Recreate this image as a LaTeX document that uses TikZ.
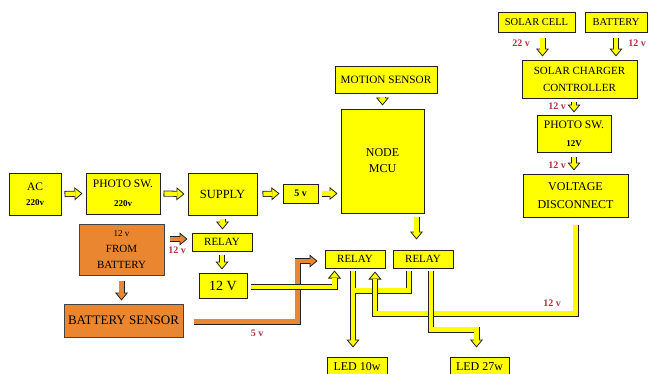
\documentclass[tikz,border=0pt]{standalone}
\usepackage{fontspec}
\setmainfont{Liberation Serif}
\usetikzlibrary{arrows.meta,positioning}
\definecolor{boxyellow}{HTML}{FFFF00}
\definecolor{batorange}{HTML}{E9862F}
\definecolor{voltred}{HTML}{B2323C}
\definecolor{rim}{HTML}{222222}
\newcommand{\fsz}[2]{\fontsize{#1}{#2}\selectfont}
\tikzset{
  box/.style={draw=rim, line width=1pt, fill=boxyellow, align=center, inner sep=0pt, font=\fsz{11}{16}},
  obox/.style={box, fill=batorange, draw=rim!85},
  volt/.style={text=voltred, font=\fsz{10}{12}\bfseries},
  bandrim/.style={draw=rim, line width=6pt, line join=miter},
  bandfill/.style={draw=#1, line width=4.4pt, line join=miter},
  bandfill/.default=boxyellow,
  bandtip/.style={-{Triangle[width=13pt,length=8pt,line width=0.8pt,fill=#1]}},
  bandtip/.default=boxyellow
}
% block arrow: outline with tip, then the inside
\newcommand{\hollowarrow}[2][boxyellow]{%
  \draw[bandrim,bandtip=#1] #2;
  \draw[bandfill=#1,shorten >=7pt,shorten <=0.8pt] #2;}

\begin{document}
\begin{tikzpicture}[x=1pt,y=-1pt]
\useasboundingbox (0,0) rectangle (650,373);

% mains side
\node[box,minimum width=52pt,minimum height=42pt,font=\fsz{11.5}{15}] (ac) at (35,194) {AC\\{\fsz{9}{11}\bfseries 220v}};
\node[box,minimum width=74pt,minimum height=41pt,font=\fsz{11.5}{19}] (photoac) at (123,193.5) {PHOTO SW.\\{\fsz{9}{11}\bfseries 220v}};
\node[box,minimum width=69pt,minimum height=42pt,font=\fsz{12.5}{15}] (supply) at (222.5,194) {SUPPLY};
\node[box,minimum width=35pt,minimum height=19pt,font=\fsz{10}{12}\bfseries] (five) at (300.5,193.5) {5 v};
\node[obox,minimum width=85pt,minimum height=51pt,font=\fsz{11}{16}] (frombat) at (121.5,249.5) {{\fsz{9}{11}12 v}\\FROM\\BATTERY};
\node[box,minimum width=60pt,minimum height=18pt] (relaymain) at (222,242) {RELAY};
\node[box,minimum width=48pt,minimum height=25pt,font=\fsz{14}{16}] (twelve) at (223,285.5) {12 V};
\node[obox,minimum width=119pt,minimum height=33pt,font=\fsz{13}{15}] (batsense) at (123.5,320.5) {BATTERY SENSOR};

% controller and relays
\node[box,minimum width=102pt,minimum height=27pt,font=\fsz{11.2}{13}] (motion) at (386,79.5) {MOTION SENSOR};
\node[box,minimum width=83pt,minimum height=104pt,font=\fsz{12}{16}] (mcu) at (382.5,161) {NODE\\MCU};
\node[box,minimum width=60pt,minimum height=18pt] (relayl) at (355,259) {RELAY};
\node[box,minimum width=60pt,minimum height=18pt] (relayr) at (423,259) {RELAY};
\node[box,minimum width=60pt,minimum height=20pt,font=\fsz{12}{14}] (ledten) at (357,367) {LED 10w};
\node[box,minimum width=59pt,minimum height=20pt,font=\fsz{12}{14}] (ledtwenty) at (479.5,367) {LED 27w};

% solar side
\node[box,minimum width=77pt,minimum height=20pt,font=\fsz{10.5}{12}] (solar) at (536.5,22) {SOLAR CELL};
\node[box,minimum width=62pt,minimum height=20pt,font=\fsz{10.5}{12}] (battery) at (616,22) {BATTERY};
\node[box,minimum width=115pt,minimum height=38pt,font=\fsz{11}{17}] (charger) at (579.5,79) {SOLAR CHARGER\\CONTROLLER};
\node[box,minimum width=74pt,minimum height=37pt,font=\fsz{11.5}{18}] (photodc) at (574,133.5) {PHOTO SW.\\{\fsz{9}{11}\bfseries 12V}};
\node[box,minimum width=105pt,minimum height=43pt,font=\fsz{12}{18}] (disconnect) at (575.5,195.5) {VOLTAGE\\DISCONNECT};

% short arrows
\hollowarrow{([xshift=3pt]ac.east) -- ([xshift=-3pt]photoac.west)}
\hollowarrow{([xshift=3pt]photoac.east) -- ([xshift=-3pt]supply.west)}
\hollowarrow{([xshift=5pt]supply.east) -- ([xshift=-3pt]five.west)}
\hollowarrow{([xshift=3pt]five.east) -- ([xshift=-3pt]mcu.west |- five.east)}
\hollowarrow{([shift={(0,3)}]mcu.north |- motion.south) -- ([shift={(0,-3)}]mcu.north)}
\hollowarrow{([shift={(0,3)}]supply.south) -- ([shift={(0,-3)}]supply.south |- relaymain.north)}
\hollowarrow{([shift={(0,3)}]relaymain.south) -- ([shift={(0,-3)}]relaymain.south |- twelve.north)}
\hollowarrow[batorange]{([shift={(5,-3)}]frombat.east |- relaymain.west) -- ([shift={(-4,-3)}]relaymain.west)}
\hollowarrow[batorange]{([shift={(0,5)}]frombat.south) -- ([shift={(0,-3)}]frombat.south |- batsense.north)}
\hollowarrow{([shift={(-8,3)}]mcu.south east) -- ([shift={(-8,26)}]mcu.south east)}
\hollowarrow{([shift={(6,5)}]solar.south) -- ([shift={(6,-3)}]solar.south |- charger.north)}
\hollowarrow{([shift={(0,5)}]battery.south) -- ([shift={(0,-3)}]battery.south |- charger.north)}
\hollowarrow{([shift={(0,3)}]photodc.north |- charger.south) -- ([shift={(0,-2)}]photodc.north)}
\hollowarrow{([shift={(0,4)}]photodc.south) -- ([shift={(0,-3)}]photodc.south |- disconnect.north)}

% relay outputs
\draw[bandrim] ([shift={(-14,2)}]relayr.south) |- ([shift={(-2,22)}]relayl.south);
\draw[bandrim,bandtip] ([shift={(-2,2)}]relayl.south) -- ([shift={(-2,-9)}]ledten.north -| relayl.south);
\draw[bandfill,shorten <=0.8pt] ([shift={(-14,2)}]relayr.south) |- ([shift={(-2,22)}]relayl.south);
\draw[bandfill,shorten <=0.8pt,shorten >=7pt] ([shift={(-2,2)}]relayl.south) -- ([shift={(-2,-9)}]ledten.north -| relayl.south);
\hollowarrow{([shift={(0,7)}]disconnect.south) |- ([shift={(20,45)}]relayl.south) -- ([shift={(20,3)}]relayl.south)}
\hollowarrow{([shift={(8,2)}]relayr.south) |- ([shift={(-3,-27)}]ledtwenty.north) -- ([shift={(-3,-9)}]ledtwenty.north)}

% feeds into the left relay
\hollowarrow[batorange]{([shift={(10,1)}]batsense.east) -| ([shift={(-27,2)}]relayl.west) -- ([shift={(-7,2)}]relayl.west)}
\hollowarrow{([shift={(3,1.5)}]twelve.east) -| ([shift={(10,2)}]relayl.south west)}

% voltage labels
\node[volt] (vbat) at (177,250) {12 v};
\node[volt] (vsense) at (257,333) {5 v};
\node[volt] (vsolar) at (521,43) {22 v};
\node[volt] (vbattery) at (637,43) {12 v};
\node[volt] (vcharger) at (557,106) {12 v};
\node[volt] (vphoto) at (557,165) {12 v};
\node[volt] (vdisc) at (552,303) {12 v};
\end{tikzpicture}
\end{document}
